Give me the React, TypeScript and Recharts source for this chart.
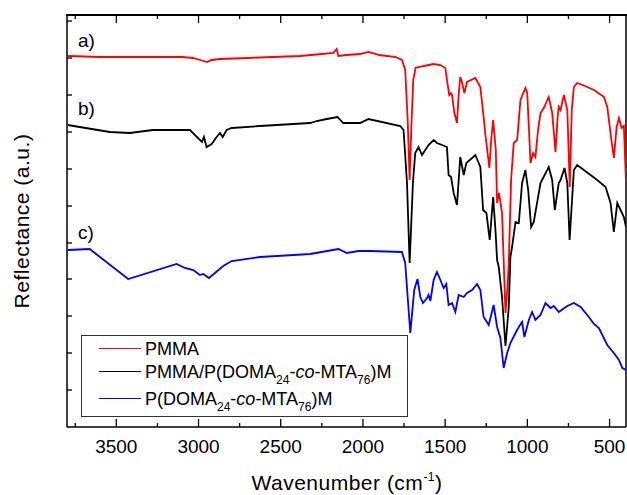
import { LineChart, Line, XAxis, YAxis, ReferenceLine } from 'recharts';

// wavenumber (cm-1) / reflectance (a.u., offset per trace)
const WN_A = [3796, 3600, 3400, 3200, 3100, 3034, 2990, 2949, 2920, 2870, 2700, 2550, 2382, 2250, 2180, 2160, 2150, 2100, 2017, 1968, 1900, 1800, 1763, 1743, 1728, 1716, 1704, 1694, 1680, 1662, 1600, 1572, 1530, 1499, 1489, 1475, 1465, 1458, 1445, 1428, 1418, 1408, 1398, 1383, 1367, 1316, 1286, 1266, 1255, 1231, 1220, 1208, 1192, 1184, 1172, 1154, 1140, 1133, 1120, 1113, 1099, 1083, 1062, 1042, 1012, 1001, 990, 981, 965, 951, 935, 920, 900, 870, 849, 829, 815, 809, 798, 778, 757, 742, 730, 717, 697, 650, 595, 534, 514, 489, 474, 457, 443, 427, 413, 400];
const REFL_A = [371, 370, 370, 370, 370, 369, 367, 365, 367, 368, 369, 370, 371, 373, 374, 378, 371, 372, 373, 375, 372, 370, 367, 357, 307, 247, 307, 347, 359, 360, 362, 363, 362, 359, 347, 332, 334, 332, 315, 304, 332, 350, 345, 334, 345, 349, 340, 310, 292, 259, 287, 307, 277, 224, 234, 214, 147, 114, 142, 164, 247, 284, 287, 327, 339, 334, 297, 264, 274, 270, 297, 314, 319, 330, 314, 275, 312, 320, 317, 332, 317, 240, 317, 340, 344, 341, 337, 330, 320, 287, 269, 300, 309, 299, 301, 244];

const WN_B = [3796, 3540, 3418, 3278, 3052, 3010, 2979, 2967, 2951, 2920, 2890, 2870, 2853, 2829, 2798, 2626, 2321, 2281, 2220, 2155, 2120, 2017, 1966, 1773, 1753, 1732, 1716, 1696, 1682, 1662, 1641, 1601, 1570, 1550, 1519, 1489, 1479, 1464, 1448, 1428, 1408, 1387, 1371, 1316, 1286, 1269, 1249, 1229, 1208, 1194, 1184, 1174, 1154, 1133, 1113, 1103, 1093, 1072, 1052, 1032, 1012, 995, 977, 961, 920, 870, 849, 833, 809, 798, 774, 757, 743, 717, 697, 575, 524, 494, 474, 453, 433, 413, 400];
const REFL_B = [302, 295, 294, 297, 297, 290, 285, 290, 280, 283, 290, 294, 290, 297, 299, 301, 304, 306, 308, 310, 304, 304, 308, 301, 297, 244, 164, 244, 274, 280, 272, 282, 287, 284, 282, 280, 252, 250, 234, 222, 270, 252, 264, 272, 260, 217, 214, 187, 230, 197, 167, 160, 130, 81, 120, 170, 180, 205, 204, 244, 257, 237, 200, 205, 244, 260, 247, 217, 244, 247, 259, 244, 187, 257, 262, 247, 240, 224, 195, 224, 217, 210, 200];

const WN_C = [3794, 3662, 3428, 3133, 3083, 3032, 2992, 2971, 2937, 2900, 2850, 2798, 2626, 2321, 2149, 2098, 2027, 1956, 1763, 1743, 1712, 1688, 1668, 1651, 1635, 1610, 1601, 1590, 1570, 1550, 1529, 1509, 1493, 1479, 1458, 1438, 1418, 1387, 1367, 1336, 1306, 1286, 1266, 1235, 1205, 1184, 1164, 1144, 1123, 1103, 1072, 1052, 1032, 1018, 991, 971, 951, 920, 890, 859, 839, 809, 757, 717, 676, 626, 595, 565, 514, 474, 443, 422, 400];
const REFL_C = [177, 178, 148, 163, 159, 157, 152, 153, 149, 154, 161, 166, 170, 173, 178, 174, 176, 176, 175, 164, 94, 137, 148, 130, 124, 129, 132, 126, 147, 155, 147, 139, 143, 122, 124, 115, 132, 130, 134, 137, 143, 137, 110, 102, 122, 100, 89, 59, 74, 84, 94, 100, 105, 90, 107, 115, 107, 112, 124, 119, 121, 115, 121, 124, 120, 110, 103, 99, 82, 74, 67, 59, 57];

const X_TICKS = [3750, 3500, 3250, 3000, 2750, 2500, 2250, 2000, 1750, 1500, 1250, 1000, 750, 500];
const X_LABELS = [3500, 3000, 2500, 2000, 1500, 1000, 500];
const Y_TICKS = [37, 74, 111, 148, 184, 221, 258, 295, 332, 369, 406];

const FONT = '"Liberation Sans", Arial, sans-serif';

const toRows = (wn: number[], refl: number[]) => wn.map((w, i) => ({ wn: w, r: refl[i] }));

function BottomTick(props: any) {
  const { x, y, payload } = props;
  const major = X_LABELS.includes(payload.value);
  return (
    <g>
      <line x1={x} x2={x} y1={y} y2={y - (major ? 8 : 4)} stroke="#000" strokeWidth={1.3} />
      {major && (
        <text x={x} y={y + 26} textAnchor="middle" fontSize={19} fontFamily={FONT} fill="#000">
          {payload.value}
        </text>
      )}
    </g>
  );
}

function TopTick(props: any) {
  const { x, y, payload } = props;
  const major = X_LABELS.includes(payload.value);
  return <line x1={x} x2={x} y1={y} y2={y + (major ? 8 : 4)} stroke="#000" strokeWidth={1.3} />;
}

function LeftTick(props: any) {
  const { x, y } = props;
  return <line x1={x} x2={x + 5} y1={y} y2={y} stroke="#000" strokeWidth={1.3} />;
}

const sub = { fontSize: 12, position: 'relative' as const, top: 6 };

function LegendRow({ color, top, children }: { color: string; top: number; children: any }) {
  return (
    <>
      <div style={{ position: 'absolute', left: 99, top: top + 8, width: 42, height: 0, borderTop: `1.5px solid ${color}` }} />
      <div style={{ position: 'absolute', left: 145, top, fontSize: 18, lineHeight: '18px', whiteSpace: 'nowrap' }}>{children}</div>
    </>
  );
}

export default function App() {
  const dataA = toRows(WN_A, REFL_A);
  const dataB = toRows(WN_B, REFL_B);
  const dataC = toRows(WN_C, REFL_C);

  return (
    <div style={{ position: 'absolute', left: 0, top: 0, width: 627, height: 495, background: '#fff', fontFamily: FONT, color: '#000', overflow: 'hidden' }}>
      {/* chart shifted up 20px so the top axis band sits above the page */}
      <div style={{ position: 'absolute', left: 0, top: -20 }}>
        <LineChart width={627} height={515} margin={{ top: 15, right: 1, bottom: 0, left: 0 }}>
          <XAxis
            xAxisId="top"
            orientation="top"
            dataKey="wn"
            type="number"
            domain={[400, 3800]}
            reversed
            allowDataOverflow
            ticks={X_TICKS}
            interval={0}
            height={20}
            tickSize={0}
            tickMargin={0}
            tickLine={false}
            tick={TopTick}
            axisLine={{ stroke: '#000', strokeWidth: 1.5 }}
          />
          <XAxis
            dataKey="wn"
            type="number"
            domain={[400, 3800]}
            reversed
            allowDataOverflow
            ticks={X_TICKS}
            interval={0}
            height={68}
            tickSize={0}
            tickMargin={0}
            tickLine={false}
            tick={BottomTick}
            axisLine={{ stroke: '#000', strokeWidth: 1.5 }}
          />
          <YAxis
            type="number"
            domain={[0, 412]}
            allowDataOverflow
            ticks={Y_TICKS}
            interval={0}
            width={67}
            tickSize={0}
            tickMargin={0}
            tickLine={false}
            tick={LeftTick}
            axisLine={{ stroke: '#000', strokeWidth: 1.5 }}
          />
          <ReferenceLine x={400} stroke="#000" strokeWidth={1.5} ifOverflow="visible" />
          <Line xAxisId="top" data={dataA} dataKey="r" stroke="#ff0000" strokeWidth={1.8} dot={false} isAnimationActive={false} />
          <Line data={dataB} dataKey="r" stroke="#000000" strokeWidth={1.8} dot={false} isAnimationActive={false} />
          <Line data={dataC} dataKey="r" stroke="#0000ff" strokeWidth={1.8} dot={false} isAnimationActive={false} />
        </LineChart>
      </div>

      <div style={{ position: 'absolute', left: 66, top: 14, width: 561, height: 2, background: '#000' }} />

      <div style={{ position: 'absolute', left: 78, top: 31, fontSize: 19, lineHeight: '19px' }}>a)</div>
      <div style={{ position: 'absolute', left: 78, top: 99, fontSize: 19, lineHeight: '19px' }}>b)</div>
      <div style={{ position: 'absolute', left: 78, top: 223, fontSize: 19, lineHeight: '19px' }}>c)</div>

      <div style={{ position: 'absolute', left: 81, top: 335, width: 325, height: 80, border: '1px solid #333', background: '#fff' }} />
      <LegendRow color="#ff0000" top={340}>PMMA</LegendRow>
      <LegendRow color="#000000" top={363}>
        PMMA/P(DOMA<span style={sub}>24</span>-<i>co</i>-MTA<span style={sub}>76</span>)M
      </LegendRow>
      <LegendRow color="#0000ff" top={390}>
        P(DOMA<span style={sub}>24</span>-<i>co</i>-MTA<span style={sub}>76</span>)M
      </LegendRow>

      <div style={{ position: 'absolute', left: 147, top: 472, width: 400, textAlign: 'center', fontSize: 21, lineHeight: '21px', letterSpacing: 0.5, whiteSpace: 'nowrap' }}>
        Wavenumber (cm<span style={{ fontSize: 12, position: 'relative', top: -9 }}>-1</span>)
      </div>
      <div
        style={{
          position: 'absolute',
          left: 22 - 150,
          top: 221 - 12,
          width: 300,
          height: 24,
          lineHeight: '24px',
          textAlign: 'center',
          fontSize: 21,
          letterSpacing: 0.5,
          transform: 'rotate(-90deg)',
        }}
      >
        Reflectance (a.u.)
      </div>
    </div>
  );
}
